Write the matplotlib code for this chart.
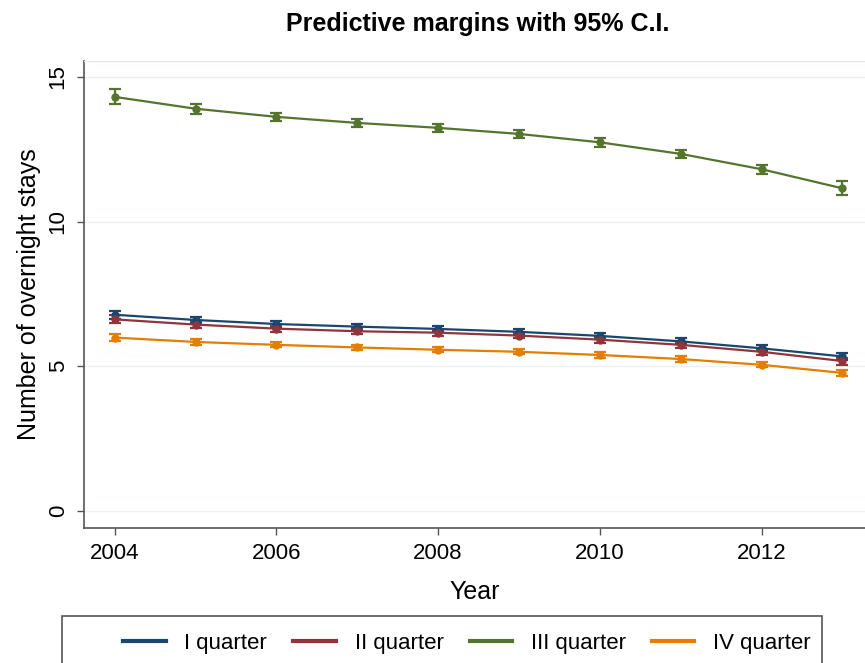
import matplotlib.pyplot as plt
from matplotlib.patches import Rectangle
from matplotlib.lines import Line2D

plt.rcParams['font.family'] = ['Liberation Sans', 'DejaVu Sans']

# Data
years = [2004, 2005, 2006, 2007, 2008, 2009, 2010, 2011, 2012, 2013]
q1 = [6.78, 6.60, 6.46, 6.37, 6.29, 6.19, 6.05, 5.86, 5.62, 5.34]
q2 = [6.62, 6.44, 6.30, 6.21, 6.16, 6.06, 5.92, 5.74, 5.50, 5.18]
q3 = [14.31, 13.90, 13.62, 13.41, 13.24, 13.03, 12.74, 12.34, 11.81, 11.15]
q4 = [5.99, 5.84, 5.74, 5.65, 5.57, 5.50, 5.39, 5.25, 5.05, 4.77]
ci_q1 = [0.14, 0.11, 0.10, 0.10, 0.10, 0.10, 0.10, 0.10, 0.10, 0.12]
ci_q2 = [0.14, 0.11, 0.10, 0.10, 0.10, 0.10, 0.10, 0.10, 0.10, 0.12]
ci_q3 = [0.26, 0.17, 0.15, 0.14, 0.14, 0.14, 0.15, 0.15, 0.16, 0.24]
ci_q4 = [0.12, 0.10, 0.09, 0.09, 0.09, 0.09, 0.09, 0.09, 0.09, 0.11]
labels = ['I quarter', 'II quarter', 'III quarter', 'IV quarter']
colors = ['#1a476f', '#90353b', '#55752f', '#e37e00']

fig = plt.figure(figsize=(8.65, 6.63), dpi=100)
ax = fig.add_axes([84 / 865, 1 - 528 / 663, 1 - 84 / 865, (528 - 61) / 663])

for vals, ci, col in zip([q1, q2, q3, q4], [ci_q1, ci_q2, ci_q3, ci_q4], colors):
    ax.errorbar(years, vals, yerr=ci, color=col, lw=1.6, elinewidth=1.6,
                capsize=4, capthick=1.6, marker='o', markersize=5, zorder=3)

ax.set_xlim(2003.62, 2013.28)
ax.set_ylim(-0.59, 15.55)
ax.set_xticks([2004, 2006, 2008, 2010, 2012])
ax.set_yticks([0, 5, 10, 15])
ax.grid(axis='y', color='#eaf2f3', lw=1, zorder=0)
ax.tick_params(axis='both', direction='out', length=5, width=1, color='#555555',
               labelsize=16, pad=6)
for lab in ax.get_yticklabels():
    lab.set_rotation(90)
    lab.set_va('center')
for side in ['left', 'bottom']:
    ax.spines[side].set_color('#555555')
    ax.spines[side].set_linewidth(1.2)
ax.spines['right'].set_visible(False)
ax.spines['top'].set_color('#e4eaea')

ax.set_xlabel('Year', fontsize=18, labelpad=11)
ax.set_ylabel('Number of overnight stays', fontsize=18, labelpad=5)
fig.text(478 / 865, 1 - 24 / 663, 'Predictive margins with 95% C.I.',
         ha='center', va='center', fontsize=18, weight='bold')

# Legend box, cropped at the bottom of the picture
fig.patches.append(Rectangle((62 / 865, -0.05), (822 - 62) / 865, 0.05 + 1 - 616 / 663,
                             transform=fig.transFigure, fill=False,
                             edgecolor='#555555', lw=1.2))
handles = [Line2D([0], [0], color=c, lw=3) for c in colors]
fig.legend(handles, labels, loc='center', bbox_to_anchor=(467 / 865, 1 - 643 / 663),
           ncol=4, frameon=False, fontsize=16, handlelength=1.9, columnspacing=1.18,
           handletextpad=0.85)

plt.savefig('out.png', dpi=100)
